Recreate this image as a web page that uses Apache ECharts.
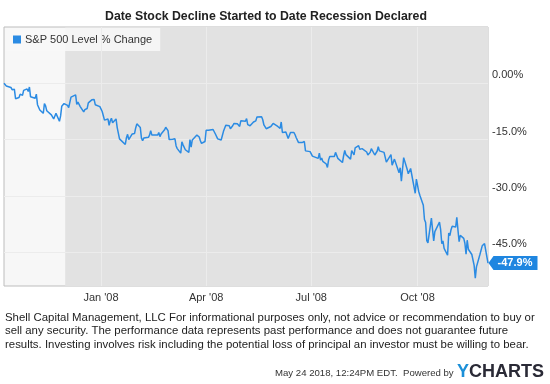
<!DOCTYPE html>
<html>
<head>
<meta charset="utf-8">
<script src="https://cdn.jsdelivr.net/npm/echarts@6/dist/echarts.min.js"></script>
<style>html,body{margin:0;padding:0;background:#fff;}#c{width:550px;height:384px;}</style>
</head>
<body>
<div id="c"></div>
<script>
var dates = [
'2007-10-09','2007-10-10','2007-10-11','2007-10-12','2007-10-15','2007-10-16','2007-10-17','2007-10-18','2007-10-19','2007-10-22','2007-10-23','2007-10-24','2007-10-25','2007-10-26','2007-10-29','2007-10-30','2007-10-31',
'2007-11-01','2007-11-02','2007-11-05','2007-11-06','2007-11-07','2007-11-08','2007-11-09','2007-11-12','2007-11-13','2007-11-14','2007-11-15','2007-11-16','2007-11-19','2007-11-20','2007-11-21','2007-11-23','2007-11-26','2007-11-27','2007-11-28','2007-11-29','2007-11-30',
'2007-12-03','2007-12-04','2007-12-05','2007-12-06','2007-12-07','2007-12-10','2007-12-11','2007-12-12','2007-12-13','2007-12-14','2007-12-17','2007-12-18','2007-12-19','2007-12-20','2007-12-21','2007-12-24','2007-12-26','2007-12-27','2007-12-28','2007-12-31',
'2008-01-02','2008-01-03','2008-01-04','2008-01-07','2008-01-08','2008-01-09','2008-01-10','2008-01-11','2008-01-14','2008-01-15','2008-01-16','2008-01-17','2008-01-18','2008-01-22','2008-01-23','2008-01-24','2008-01-25','2008-01-28','2008-01-29','2008-01-30','2008-01-31',
'2008-02-01','2008-02-04','2008-02-05','2008-02-06','2008-02-07','2008-02-08','2008-02-11','2008-02-12','2008-02-13','2008-02-14','2008-02-15','2008-02-19','2008-02-20','2008-02-21','2008-02-22','2008-02-25','2008-02-26','2008-02-27','2008-02-28','2008-02-29',
'2008-03-03','2008-03-04','2008-03-05','2008-03-06','2008-03-07','2008-03-10','2008-03-11','2008-03-12','2008-03-13','2008-03-14','2008-03-17','2008-03-18','2008-03-19','2008-03-20','2008-03-24','2008-03-25','2008-03-26','2008-03-27','2008-03-28','2008-03-31',
'2008-04-01','2008-04-02','2008-04-03','2008-04-04','2008-04-07','2008-04-08','2008-04-09','2008-04-10','2008-04-11','2008-04-14','2008-04-15','2008-04-16','2008-04-17','2008-04-18','2008-04-21','2008-04-22','2008-04-23','2008-04-24','2008-04-25','2008-04-28','2008-04-29','2008-04-30',
'2008-05-01','2008-05-02','2008-05-05','2008-05-06','2008-05-07','2008-05-08','2008-05-09','2008-05-12','2008-05-13','2008-05-14','2008-05-15','2008-05-16','2008-05-19','2008-05-20','2008-05-21','2008-05-22','2008-05-23','2008-05-27','2008-05-28','2008-05-29','2008-05-30',
'2008-06-02','2008-06-03','2008-06-04','2008-06-05','2008-06-06','2008-06-09','2008-06-10','2008-06-11','2008-06-12','2008-06-13','2008-06-16','2008-06-17','2008-06-18','2008-06-19','2008-06-20','2008-06-23','2008-06-24','2008-06-25','2008-06-26','2008-06-27','2008-06-30',
'2008-07-01','2008-07-02','2008-07-03','2008-07-07','2008-07-08','2008-07-09','2008-07-10','2008-07-11','2008-07-14','2008-07-15','2008-07-16','2008-07-17','2008-07-18','2008-07-21','2008-07-22','2008-07-23','2008-07-24','2008-07-25','2008-07-28','2008-07-29','2008-07-30','2008-07-31',
'2008-08-01','2008-08-04','2008-08-05','2008-08-06','2008-08-07','2008-08-08','2008-08-11','2008-08-12','2008-08-13','2008-08-14','2008-08-15','2008-08-18','2008-08-19','2008-08-20','2008-08-21','2008-08-22','2008-08-25','2008-08-26','2008-08-27','2008-08-28','2008-08-29',
'2008-09-02','2008-09-03','2008-09-04','2008-09-05','2008-09-08','2008-09-09','2008-09-10','2008-09-11','2008-09-12','2008-09-15','2008-09-16','2008-09-17','2008-09-18','2008-09-19','2008-09-22','2008-09-23','2008-09-24','2008-09-25','2008-09-26','2008-09-29','2008-09-30',
'2008-10-01','2008-10-02','2008-10-03','2008-10-06','2008-10-07','2008-10-08','2008-10-09','2008-10-10','2008-10-13','2008-10-14','2008-10-15','2008-10-16','2008-10-17','2008-10-20','2008-10-21','2008-10-22','2008-10-23','2008-10-24','2008-10-27','2008-10-28','2008-10-29','2008-10-30','2008-10-31',
'2008-11-03','2008-11-04','2008-11-05','2008-11-06','2008-11-07','2008-11-10','2008-11-11','2008-11-12','2008-11-13','2008-11-14','2008-11-17','2008-11-18','2008-11-19','2008-11-20','2008-11-21','2008-11-24','2008-11-25','2008-11-26','2008-11-28',
'2008-12-01'
];
var pctChange = [
0.0,-0.2,-0.7,-0.2,-1.1,-1.7,-1.5,-1.6,-4.1,-3.8,-2.9,-3.1,-3.2,-1.9,-1.5,-2.2,-1.0,
-3.6,-3.5,-4.0,-2.9,-5.7,-5.8,-7.1,-8.0,-5.4,-6.0,-7.3,-6.8,-8.4,-8.0,-9.5,-8.0,-10.1,-8.7,-6.1,-6.1,-5.4,
-5.9,-6.5,-5.1,-3.7,-3.9,-3.1,-5.6,-5.0,-4.9,-6.2,-7.6,-7.0,-7.2,-6.7,-5.2,-4.4,-4.3,-5.7,-5.5,-6.2,
-7.5,-7.5,-9.8,-9.5,-11.2,-10.0,-9.3,-10.5,-9.5,-11.8,-12.3,-14.8,-15.3,-16.3,-14.5,-13.6,-15.0,-13.5,-13.0,-13.4,-11.9,
-10.8,-11.8,-14.6,-15.3,-14.6,-14.9,-14.4,-13.8,-12.6,-13.8,-13.7,-13.8,-13.1,-14.2,-13.5,-12.4,-11.7,-11.8,-12.6,-15.0,
-14.9,-15.2,-14.8,-16.7,-17.4,-18.6,-15.6,-16.4,-16.0,-17.7,-18.4,-15.0,-17.0,-15.1,-13.8,-13.6,-14.3,-15.3,-16.0,-15.5,
-12.5,-12.6,-12.5,-12.4,-12.3,-12.8,-13.5,-13.1,-14.8,-15.1,-14.7,-12.8,-12.8,-11.2,-11.3,-12.1,-11.8,-11.3,-10.7,-10.8,-11.1,-11.5,
-10.0,-9.7,-10.1,-9.4,-11.0,-10.7,-11.3,-10.3,-10.4,-10.0,-9.0,-8.9,-8.9,-9.7,-11.1,-10.9,-12.1,-11.5,-11.1,-10.7,-10.5,
-11.5,-12.0,-12.0,-10.3,-13.1,-13.0,-13.2,-14.7,-14.4,-13.1,-13.1,-13.7,-14.5,-14.2,-15.8,-15.8,-16.0,-15.5,-18.0,-18.3,-18.2,
-17.9,-19.4,-19.3,-20.0,-18.6,-20.5,-19.9,-20.8,-21.5,-22.4,-20.4,-19.5,-19.5,-19.5,-18.4,-18.1,-20.0,-19.6,-21.1,-19.3,-17.9,-19.0,
-19.5,-20.2,-17.9,-17.6,-19.1,-17.2,-16.6,-17.6,-17.8,-17.4,-17.1,-18.3,-19.1,-18.6,-18.4,-17.4,-19.1,-18.8,-18.1,-16.9,-18.0,
-18.4,-18.5,-21.0,-20.6,-19.0,-21.8,-21.3,-20.2,-20.0,-23.8,-22.5,-26.1,-22.9,-19.8,-22.9,-24.1,-24.2,-22.7,-22.5,-29.3,-25.5,
-25.8,-28.8,-29.8,-32.5,-36.3,-37.1,-41.9,-42.5,-35.9,-36.2,-42.0,-39.5,-39.9,-37.0,-39.0,-42.7,-42.0,-44.0,-45.8,-39.9,-40.6,-39.0,-38.1,
-38.3,-35.7,-39.1,-42.2,-40.5,-41.3,-42.6,-45.5,-41.8,-44.2,-45.6,-45.1,-48.5,-51.9,-48.9,-45.6,-45.2,-43.3,-42.7,
-47.9
];
var seriesName = 'S&P 500 Level % Change';
var recessionStart = '2007-12-01';
var recessionEnd = '2008-12-01';
var xTickDates = ['2008-01-01','2008-04-01','2008-07-01','2008-10-01'];
var xTickLabels = ["Jan '08","Apr '08","Jul '08","Oct '08"];
var yTickValues = [0,-15,-30,-45];
var yTickLabels = ['0.00%','-15.0%','-30.0%','-45.0%'];

var FONT = '"Liberation Sans", Arial, sans-serif';
var LINE = '#2b8be3';
var seriesData = dates.map(function(d,i){return [d,pctChange[i]];});
var last = seriesData[seriesData.length-1];

function ymd(v){var d=new Date(v);return d.getFullYear()+'-'+('0'+(d.getMonth()+1)).slice(-2)+'-'+('0'+d.getDate()).slice(-2);}

var chart = echarts.init(document.getElementById('c'));
chart.setOption({
  animation:false,
  backgroundColor:'#fff',
  textStyle:{fontFamily:FONT},
  title:{text:'Date Stock Decline Started to Date Recession Declared',left:100,top:6,
    textStyle:{fontSize:12.3,fontWeight:'bold',color:'#222',fontFamily:FONT}},
  legend:{show:true,left:5,top:28,padding:[6,8,6,8],backgroundColor:'rgba(248,248,248,0.85)',
    itemWidth:8,itemHeight:8,itemGap:4,icon:'rect',
    textStyle:{fontSize:11,color:'#333',fontFamily:FONT,padding:[0,0,0,-1]},data:[seriesName]},
  grid:{left:4,right:62,top:27,bottom:98,show:true,backgroundColor:'#f7f7f7',borderColor:'#bdbdbd',borderWidth:1},
  xAxis:{type:'time',min:dates[0],max:dates[dates.length-1],splitNumber:14,
    axisLine:{show:false},axisTick:{show:false},splitLine:{show:false},
    axisLabel:{color:'#333',fontSize:11,fontFamily:FONT,margin:6,showMinLabel:false,showMaxLabel:false,
      formatter:function(v){var k=xTickDates.indexOf(ymd(v));return k>=0?xTickLabels[k]:'';}}},
  yAxis:{type:'value',position:'right',min:-54,max:15,interval:3,
    axisLine:{show:false},axisTick:{show:false},splitLine:{show:false},
    axisLabel:{color:'#333',fontSize:11,fontFamily:FONT,margin:4,verticalAlign:'bottom',lineHeight:12,padding:[0,0,2,0],
      formatter:function(v){var k=yTickValues.indexOf(Math.round(v));return (k>=0&&Math.abs(v-Math.round(v))<1e-6)?yTickLabels[k]:'';}}},
  series:[
    {name:'bg',type:'line',data:[seriesData[0]],symbol:'none',lineStyle:{opacity:0},z:1,silent:true,legendHoverLink:false,
      markArea:{silent:true,itemStyle:{color:'#e2e2e2'},data:[[{xAxis:recessionStart},{xAxis:recessionEnd}]]},
      markLine:{silent:true,symbol:['none','none'],label:{show:false},lineStyle:{color:'#ececec',type:'solid',width:1},
        data:yTickValues.map(function(v){return {yAxis:v};}).concat(xTickDates.map(function(d){return {xAxis:d};}))}},
    {name:seriesName,type:'line',data:seriesData,symbol:'none',z:5,
      itemStyle:{color:LINE},lineStyle:{color:LINE,width:1.5},
      markPoint:{silent:true,symbol:'path://M0,7 L5,0 L49,0 L49,14 L5,14 Z',symbolSize:[49,14],symbolKeepAspect:false,
        symbolOffset:[25,0],itemStyle:{color:'#1f86e0'},
        label:{show:true,color:'#fff',fontSize:11,fontWeight:'bold',fontFamily:FONT,offset:[2,0],
          formatter:function(p){return p.value.toFixed(1)+'%';}},
        data:[{coord:last,value:last[1]}]}}
  ],
  graphic:[
    {type:'text',left:5,top:311,style:{text:'Shell Capital Management, LLC For informational purposes only, not advice or recommendation to buy or\nsell any security. The performance data represents past performance and does not guarantee future\nresults. Investing involves risk including the potential loss of principal an investor must be willing to bear.',
      font:'11.4px '+FONT,fill:'#222',lineHeight:13.5}},
    {type:'text',left:275,top:368,style:{text:'May 24 2018, 12:24PM EDT.  Powered by',font:'9.6px '+FONT,fill:'#333'}},
    {type:'text',left:457,top:363,style:{text:'Y',font:'bold 18px '+FONT,fill:'#1b8fd8'}},
    {type:'text',left:469,top:363,style:{text:'CHARTS',font:'bold 18px '+FONT,fill:'#2a2a36'}}
  ]
});
</script>
</body>
</html>
